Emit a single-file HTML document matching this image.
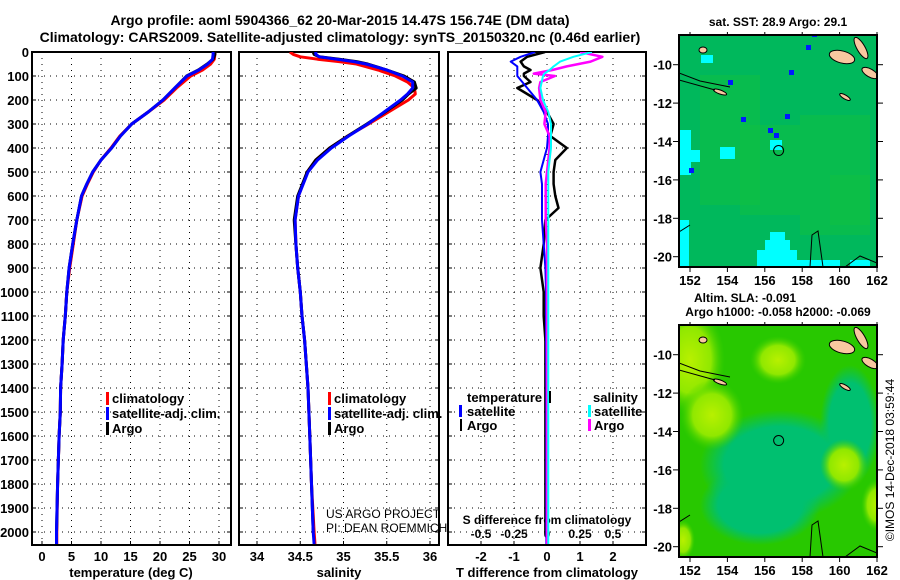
<!DOCTYPE html>
<html><head><meta charset="utf-8"><style>
html,body{margin:0;padding:0;background:#fff;}
svg{display:block;font-family:"Liberation Sans",Arial,sans-serif;font-weight:bold;}
</style></head><body>
<svg id="fig" xmlns="http://www.w3.org/2000/svg" width="900" height="580" viewBox="0 0 900 580">
<defs>
<radialGradient id="yb" cx="50%" cy="50%" r="50%"><stop offset="0" stop-color="#b8f000"/><stop offset="0.6" stop-color="#90e800"/><stop offset="1" stop-color="#40d000" stop-opacity="0"/></radialGradient>
<radialGradient id="tb" cx="50%" cy="50%" r="50%"><stop offset="0" stop-color="#00c070"/><stop offset="0.7" stop-color="#00c070"/><stop offset="1" stop-color="#00c070" stop-opacity="0"/></radialGradient>
<clipPath id="c1"><rect x="32" y="52" width="199" height="493"/></clipPath>
<clipPath id="c2"><rect x="239" y="52" width="200" height="493"/></clipPath>
<clipPath id="c3"><rect x="448" y="52" width="198" height="493"/></clipPath>
<clipPath id="cm1"><rect x="679" y="35" width="198" height="232"/></clipPath>
<clipPath id="cm2"><rect x="679" y="325" width="198" height="232"/></clipPath>
</defs>
<text x="340" y="25" text-anchor="middle" font-size="14">Argo profile: aoml 5904366_62 20-Mar-2015 14.47S 156.74E (DM data)</text>
<text x="340" y="42" text-anchor="middle" font-size="14">Climatology: CARS2009. Satellite-adjusted climatology: synTS_20150320.nc (0.46d earlier)</text>
<g id="g"></g>
</svg>
<script>
// ---- data ----
const tDepths=[0,10,30,50,75,100,150,200,250,300,350,400,450,500,550,600,700,800,900,1000,1100,1200,1300,1400,1500,1600,1800,2000,2050];
const tArgo=[29.3,29.3,29.0,28.0,26.5,24.5,22.5,20.5,18.0,15.2,13.3,11.8,10.0,8.6,7.6,6.7,5.9,5.2,4.6,4.2,3.95,3.6,3.4,3.15,3.1,2.9,2.65,2.45,null];
const tClim=[29.3,29.3,29.2,28.6,27.2,25.2,22.8,20.7,18.0,15.2,13.2,11.7,10.0,8.7,7.7,6.8,5.9,5.3,4.7,4.2,3.95,3.6,3.4,3.15,3.1,2.9,2.65,2.5,2.5];
const tSat=[29.0,29.0,28.9,28.1,26.6,24.6,22.5,20.5,18.0,15.2,13.3,11.8,10.0,8.6,7.6,6.7,5.9,5.2,4.6,4.2,3.95,3.6,3.4,3.15,3.1,2.9,2.65,2.45,2.45];
const sDepths=[0,10,20,30,40,50,75,100,125,150,175,200,250,300,350,400,450,500,600,700,800,900,1000,1100,1200,1300,1400,1500,1600,1800,2000,2050];
const sArgo=[34.65,34.66,34.72,34.95,35.15,35.28,35.5,35.7,35.82,35.84,35.75,35.68,35.48,35.27,35.05,34.84,34.68,34.58,34.47,34.43,34.45,34.47,34.5,34.52,34.55,34.57,34.59,34.6,34.61,34.63,34.65,null];
const sClim=[34.38,34.42,34.5,34.7,34.95,35.15,35.4,35.6,35.74,35.82,35.83,35.75,35.52,35.29,35.05,34.84,34.68,34.58,34.48,34.44,34.45,34.47,34.5,34.52,34.55,34.57,34.59,34.6,34.61,34.63,34.66,34.67];
const sSat=[34.68,34.68,34.72,34.92,35.12,35.26,35.5,35.68,35.8,35.8,35.74,35.66,35.47,35.28,35.06,34.86,34.7,34.59,34.48,34.44,34.45,34.47,34.5,34.52,34.55,34.57,34.59,34.6,34.61,34.63,34.65,34.66];
const dDepths=[0,20,40,60,75,90,100,125,150,200,250,300,350,400,450,500,550,600,650,700,800,900,1000,1100,1200,1400,1600,1800,2000,2050];
const dTArgo=[-0.06,-0.6,-0.8,-0.7,-0.5,-0.7,-0.7,-0.5,-0.9,-0.3,0.0,0.2,0.1,0.6,0.25,0.2,0.2,0.25,0.35,-0.05,-0.1,-0.2,-0.1,-0.1,-0.05,-0.05,-0.05,-0.05,-0.05,null];
const dTSat=[-0.36,-0.8,-1.1,-0.9,-0.9,-0.9,-0.9,-0.75,-0.6,-0.3,-0.1,0.03,0.03,0.0,-0.1,-0.2,-0.15,-0.15,-0.15,-0.15,-0.1,-0.05,-0.03,-0.03,-0.03,-0.02,-0.02,-0.02,-0.02,-0.02];
const dSArgo=[0.25,0.42,0.33,0.15,0.04,-0.1,0.06,-0.05,-0.06,-0.05,-0.01,-0.02,0.02,0.02,0.01,0.0,-0.01,-0.01,-0.01,-0.01,0.0,0.0,0.0,0.0,0.0,0.0,0.0,0.0,0.0,0.0];
const dSSat=[0.34,0.2,0.1,0.05,0.02,-0.02,-0.03,-0.04,-0.05,-0.03,0.01,0.03,0.03,0.03,0.02,0.01,0.01,0.01,0.01,0.01,0.01,0.01,0.01,0.01,0.01,0.01,0.01,0.01,0.01,0.01];
const depthTicks=[0,100,200,300,400,500,600,700,800,900,1000,1100,1200,1300,1400,1500,1600,1700,1800,1900,2000];
const tTicks=[0,5,10,15,20,25,30];
const sTicks=[34,34.5,35,35.5,36];
const dTTicks=[-2,-1,0,1,2];
const dSTicks=[-0.5,-0.25,0,0.25,0.5];
const lonTicks=[152,154,156,158,160,162];
const latTicks=[-10,-12,-14,-16,-18,-20];

// ---- scales ----
const yD=d=>52+d*0.24;
const xT=t=>42+t*5.9;
const xS=s=>257+(s-34)*86.5;
const xDT=v=>547+v*33;
const xDS=v=>547+v*132;
const xLon=l=>690+(l-152)*18.7;
const yLat1=l=>64.7+(-10-l)*19.2;
const yLat2=l=>354.7+(-10-l)*19.2;

const NS='http://www.w3.org/2000/svg';
const G=document.getElementById('g');
function mk(tag,attrs,parent,txt){const e=document.createElementNS(NS,tag);for(const k in attrs)e.setAttribute(k,attrs[k]);if(txt!==undefined)e.textContent=txt;(parent||G).appendChild(e);return e;}
function grp(name,clip){const g=mk('g',clip?{'clip-path':'url(#'+clip+')'}:{});


return g;}
function line(xs,ds,xf,color,w,name,clip){let p='';let started=false;
for(let i=0;i<ds.length;i++){if(xs[i]===null||xs[i]===undefined)continue;p+=(started?'L':'M')+xf(xs[i]).toFixed(1)+','+yD(ds[i]).toFixed(1);started=true;}
const e=mk('path',{d:p,fill:'none',stroke:color,'stroke-width':w,'stroke-linejoin':'round','clip-path':'url(#'+clip+')'});

}

function panel(x0,x1,xTicksArr,xf,name,clip){
 const g=grp(name+'-grid');
 depthTicks.forEach(d=>{if(d>0)mk('line',{x1:x0,x2:x1,y1:yD(d),y2:yD(d),stroke:'#000','stroke-width':1,'stroke-dasharray':'1,5'},g);
  mk('line',{x1:x0,x2:x0+4,y1:yD(d),y2:yD(d),stroke:'#000'},g);mk('line',{x1:x1-4,x2:x1,y1:yD(d),y2:yD(d),stroke:'#000'},g);});
 xTicksArr.forEach(t=>{mk('line',{x1:xf(t),x2:xf(t),y1:52,y2:545,stroke:'#000','stroke-dasharray':'1,5'},g);mk('line',{x1:xf(t),x2:xf(t),y1:541,y2:545,stroke:'#000'},g);});
 const r=mk('rect',{x:x0,y:52,width:x1-x0,height:493,fill:'none',stroke:'#000','stroke-width':2});
 
 
}
panel(32,231,tTicks,xT,'temperature-panel');
panel(239,439,sTicks,xS,'salinity-panel');
panel(448,646,dTTicks,xDT,'difference-panel');

// y tick labels
const yl=grp('depth-axis-labels');
depthTicks.forEach(d=>mk('text',{x:29,y:yD(d)+5,'text-anchor':'end','font-size':13},yl,String(d)));
const tl=grp('temperature-tick-labels');
tTicks.forEach(t=>mk('text',{x:xT(t),y:561,'text-anchor':'middle','font-size':13},tl,String(t)));
mk('text',{x:131,y:577,'text-anchor':'middle','font-size':13},tl,'temperature (deg C)');
const sl=grp('salinity-tick-labels');
sTicks.forEach(t=>mk('text',{x:xS(t),y:561,'text-anchor':'middle','font-size':13},sl,String(t)));
mk('text',{x:339,y:577,'text-anchor':'middle','font-size':13},sl,'salinity');
const dl=grp('t-difference-tick-labels');
dTTicks.forEach(t=>mk('text',{x:xDT(t),y:561,'text-anchor':'middle','font-size':13},dl,String(t)));
mk('text',{x:547,y:577,'text-anchor':'middle','font-size':13},dl,'T difference from climatology');
const ds=grp('s-difference-tick-labels');
dSTicks.forEach(t=>mk('text',{x:xDS(t),y:538,'text-anchor':'middle','font-size':12},ds,String(t)));
mk('text',{x:547,y:524,'text-anchor':'middle','font-size':12},ds,'S difference from climatology');

// series
line(tClim,tDepths,xT,'#f00',3,'temperature-climatology-line','c1');
line(tArgo,tDepths,xT,'#000',3,'temperature-argo-line','c1');
line(tSat,tDepths,xT,'#00f',3,'temperature-satellite-line','c1');
line(sClim,sDepths,xS,'#f00',3,'salinity-climatology-line','c2');
line(sArgo,sDepths,xS,'#000',3,'salinity-argo-line','c2');
line(sSat,sDepths,xS,'#00f',3,'salinity-satellite-line','c2');
line(dTArgo,dDepths,xDT,'#000',2.5,'t-diff-argo-line','c3');
line(dTSat,dDepths,xDT,'#00f',2,'t-diff-satellite-line','c3');
line(dSArgo,dDepths,xDS,'#f0f',2.5,'s-diff-argo-line','c3');
line(dSSat,dDepths,xDS,'#0ff',2,'s-diff-satellite-line','c3');

// legends
function legend(x,y,items,name){const g=grp(name);items.forEach((it,i)=>{
 mk('rect',{x:x,y:y+i*15-11,width:3,height:13,fill:it[0]},g);
 mk('text',{x:x+6,y:y+i*15,'font-size':13},g,it[1]);});}
legend(106,403,[['#f00','climatology'],['#00f','satellite-adj. clim.'],['#000','Argo']],'temperature-legend');
legend(328,403,[['#f00','climatology'],['#00f','satellite-adj. clim.'],['#000','Argo']],'salinity-legend');
const l3=grp('difference-legend');
mk('text',{x:467,y:402,'font-size':13},l3,'temperature');
mk('rect',{x:549,y:391,width:2,height:12,fill:'#000'},l3);
mk('text',{x:593,y:402,'font-size':13},l3,'salinity');
mk('rect',{x:459,y:405,width:3,height:12,fill:'#00f'},l3);
mk('text',{x:467,y:416,'font-size':13},l3,'satellite');
mk('rect',{x:588,y:405,width:3,height:12,fill:'#0ff'},l3);
mk('text',{x:594,y:416,'font-size':13},l3,'satellite');
mk('rect',{x:460,y:419,width:2,height:12,fill:'#000'},l3);
mk('text',{x:467,y:430,'font-size':13},l3,'Argo');
mk('rect',{x:588,y:419,width:3,height:12,fill:'#f0f'},l3);
mk('text',{x:594,y:430,'font-size':13},l3,'Argo');
const cr=grp('project-credit');
mk('text',{x:326,y:518,'font-size':12,'font-weight':'normal'},cr,'US ARGO PROJECT');
mk('text',{x:326,y:532,'font-size':12,'font-weight':'normal'},cr,'PI: DEAN ROEMMICH');

// maps
function map(y0,yLat,kind,name,clip){
 const g=grp(name,clip);
 if(kind==='sst'){
  mk('rect',{x:679,y:y0,width:198,height:232,fill:'#00b85c'},g);
  [[700,40,60,130],[740,90,60,90],[800,80,70,120],[830,140,40,50]].forEach(r=>mk('rect',{x:r[0],y:y0+r[1],width:r[2],height:r[3],fill:'#10c040',opacity:0.5},g));
  [[679,95,12,45],[690,115,10,12],[679,185,10,50],[757,215,40,17],[765,205,25,12],[770,197,15,8],[790,225,30,7],[820,225,20,7],[850,225,20,7],[701,20,12,8],[720,112,15,12],[770,105,12,10]].forEach(r=>mk('rect',{x:r[0],y:y0+r[1],width:r[2],height:r[3],fill:'#00ffff'},g));
  [[741,97],[689,148],[768,108],[774,113],[785,94],[789,50],[812,12],[728,60],[806,25]].forEach(p=>mk('rect',{x:p[0],y:y0+p[1]-15,width:5,height:5,fill:'#0018ff'},g));
 } else {
  mk('rect',{x:679,y:y0,width:198,height:232,fill:'#28c800'},g);
  mk('ellipse',{cx:780,cy:y0+140,rx:80,ry:55,fill:'url(#tb)'},g);
  mk('ellipse',{cx:760,cy:y0+180,rx:60,ry:40,fill:'url(#tb)'},g);
  mk('ellipse',{cx:850,cy:y0+100,rx:30,ry:60,fill:'url(#tb)'},g);
  [[690,y0+35,35,55],[712,y0+90,32,35],[778,y0+35,28,24],[844,y0+140,24,26],[877,y0+180,16,26],[683,y0+215,12,20]].forEach(e=>mk('ellipse',{cx:e[0],cy:e[1],rx:e[2],ry:e[3],fill:'url(#yb)'},g));
 }
 // islands
 [[842,y0+22,13,6,15],[861,y0+13,4,12,-30],[870,y0+38,9,4,30],[703,y0+15,4,3,0],[720,y0+57,7,2,20],[845,y0+62,6,2,30]].forEach(e=>mk('ellipse',{cx:e[0],cy:e[1],rx:e[2],ry:e[3],transform:'rotate('+e[4]+' '+e[0]+' '+e[1]+')',fill:'#f8c8a0',stroke:'#000','stroke-width':1},g));
 mk('path',{d:'M679,'+(y0+38)+' L700,'+(y0+46)+' L730,'+(y0+52)+' M679,'+(y0+45)+' L715,'+(y0+55)+' M810,'+(y0+232)+' L812,'+(y0+200)+' L818,'+(y0+196)+' L823,'+(y0+232)+' M845,'+(y0+232)+' L860,'+(y0+221)+' L877,'+(y0+228)+' M679,'+(y0+197)+' L690,'+(y0+190),fill:'none',stroke:'#000','stroke-width':1},g);
 mk('circle',{cx:xLon(156.74),cy:yLat(-14.47),r:5,fill:'none',stroke:'#000','stroke-width':1},g);
 const f=mk('rect',{x:679,y:y0,width:198,height:232,fill:'none',stroke:'#000','stroke-width':2});
 
 
 const a=grp(name+'-axes');
 latTicks.forEach(l=>{mk('line',{x1:673,x2:679,y1:yLat(l),y2:yLat(l),stroke:'#000'},a);mk('line',{x1:877,x2:883,y1:yLat(l),y2:yLat(l),stroke:'#000'},a);
  mk('text',{x:672,y:yLat(l)+5,'text-anchor':'end','font-size':13},a,String(l));});
 lonTicks.forEach(l=>{mk('line',{x1:xLon(l),x2:xLon(l),y1:y0-3,y2:y0,stroke:'#000'},a);mk('line',{x1:xLon(l),x2:xLon(l),y1:y0+232,y2:y0+237,stroke:'#000'},a);
  mk('text',{x:xLon(l),y:y0+250,'text-anchor':'middle','font-size':13},a,String(l));});
}
map(35,yLat1,'sst','sst-map','cm1');
map(325,yLat2,'sla','sla-map','cm2');
const mt=grp('map-titles');
mk('text',{x:778,y:26,'text-anchor':'middle','font-size':12},mt,'sat. SST: 28.9 Argo: 29.1');
mk('text',{x:745,y:302,'text-anchor':'middle','font-size':12},mt,'Altim. SLA: -0.091');
mk('text',{x:778,y:316,'text-anchor':'middle','font-size':12},mt,'Argo h1000: -0.058 h2000: -0.069');
mk('text',{x:894,y:460,'text-anchor':'middle','font-size':12,'font-weight':'normal',transform:'rotate(-90 894 460)'},mt,'©IMOS 14-Dec-2018 03:59:44');
</script>
</body></html>
